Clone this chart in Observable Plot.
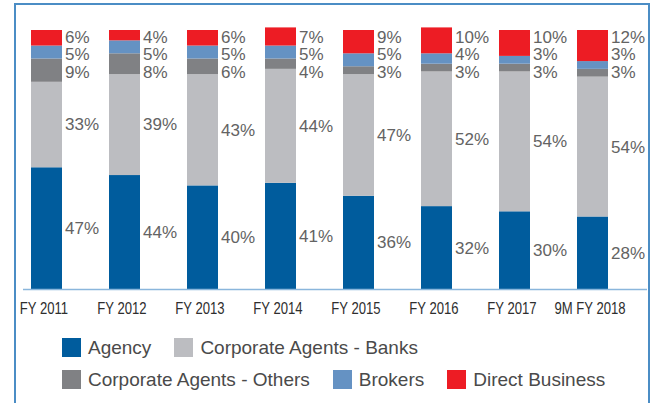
<!DOCTYPE html>
<html>
<head>
<meta charset="utf-8">
<script src="https://cdn.jsdelivr.net/npm/d3@7"></script>
<script src="https://cdn.jsdelivr.net/npm/@observablehq/plot@0.6"></script>
<style>
  html, body { margin: 0; padding: 0; background: #fff; }
  #wrap { position: relative; width: 656px; height: 403px; overflow: hidden; font-family: "Liberation Sans", Arial, sans-serif; }
  #frame { position: absolute; left: 14px; top: 3px; width: 636px; height: 420px; border: 2px solid #4b8dc5; border-bottom: none; box-sizing: border-box; }
  #chart { position: absolute; left: 0; top: 0; }
  #legend { position: absolute; left: 62px; top: 338px; width: 580px; }
  .row { display: flex; align-items: center; height: 19px; margin-bottom: 13px; }
  .item { display: flex; align-items: center; margin-right: 23px; }
  .sw { width: 19px; height: 19px; margin-right: 7px; flex: none; }
  .lab { font-size: 19px; color: #4a4a4a; line-height: 19px; white-space: nowrap; }
</style>
</head>
<body>
<div id="wrap">
  <div id="frame"></div>
  <div id="chart"></div>
  <div id="legend"></div>
</div>
<script>
const years = ["FY 2011", "FY 2012", "FY 2013", "FY 2014", "FY 2015", "FY 2016", "FY 2017", "9M FY 2018"];
const seriesNames = ["Agency", "Corporate Agents - Banks", "Corporate Agents - Others", "Brokers", "Direct Business"];
const colors = ["#005c9d", "#bcbdc1", "#808184", "#6592c3", "#ed1c24"];
const agency = [47, 44, 40, 41, 36, 32, 30, 28];
const banks = [33, 39, 43, 44, 47, 52, 54, 54];
const others = [9, 8, 6, 4, 3, 3, 3, 3];
const brokers = [5, 5, 5, 5, 5, 4, 3, 3];
const direct = [6, 4, 6, 7, 9, 10, 10, 12];
const legendRows = [[0, 1], [2, 3, 4]];

const seriesValues = [agency, banks, others, brokers, direct];
const data = [];
seriesNames.forEach((s, si) => {
  years.forEach((y, yi) => {
    data.push({year: y, series: s, value: seriesValues[si][yi]});
  });
});

const labelFont = "Liberation Sans, Arial, sans-serif";
const labelColor = "#636363";
const labelSize = 17;
const stackOpts = {x: "year", y: "value", z: "series", order: seriesNames};

const bottomLabels = data.filter(d => d.series === "Agency" || d.series === "Corporate Agents - Banks");
const topOffsets = {"Direct Business": 7, "Brokers": 24, "Corporate Agents - Others": 42};

const topMarks = Object.entries(topOffsets).map(([s, off]) =>
  Plot.text(data.filter(d => d.series === s), {
    x: "year", frameAnchor: "top", text: d => d.value + "%",
    textAnchor: "start", lineAnchor: "middle", dx: 18, dy: off,
    fontSize: labelSize, fill: labelColor, fontFamily: labelFont
  })
);

const chart = Plot.plot({
  width: 656,
  height: 320,
  marginLeft: 23,
  marginRight: 9,
  marginTop: 30,
  marginBottom: 31,
  x: {type: "band", domain: years, paddingInner: 0.6055, paddingOuter: 0.2737, align: 0.163, label: null},
  y: {domain: [0, 100], axis: null},
  color: {domain: seriesNames, range: colors},
  marks: [
    Plot.barY(data, Plot.stackY({...stackOpts, fill: "series", inset: 0})),
    Plot.text(bottomLabels, Plot.stackY({...stackOpts,
      text: d => d.value + "%", textAnchor: "start", dx: 18,
      fontSize: labelSize, fill: labelColor, fontFamily: labelFont})),
    ...topMarks,
    Plot.ruleY([0], {stroke: "#8ab6dc", strokeWidth: 1.5}),
    Plot.axisX({tickSize: 0, tickPadding: 12, fontSize: 17, fill: "#2e2e2e",
      fontFamily: "Liberation Sans, Arial, sans-serif", dx: -3, label: null})
  ]
});
chart.style.background = "transparent";
chart.style.overflow = "visible";
document.getElementById("chart").appendChild(chart);

// condense the tick labels (the reference uses a narrow face)
d3.select(chart).selectAll('g[aria-label="x-axis tick label"] text').each(function () {
  const w = this.getComputedTextLength();
  this.setAttribute("textLength", (w * 0.77).toFixed(1));
  this.setAttribute("lengthAdjust", "spacingAndGlyphs");
});

const legend = document.getElementById("legend");
legendRows.forEach(row => {
  const r = document.createElement("div");
  r.className = "row";
  row.forEach(i => {
    const it = document.createElement("div");
    it.className = "item";
    const sw = document.createElement("div");
    sw.className = "sw";
    sw.style.background = colors[i];
    const lb = document.createElement("span");
    lb.className = "lab";
    lb.textContent = seriesNames[i];
    it.appendChild(sw);
    it.appendChild(lb);
    r.appendChild(it);
  });
  legend.appendChild(r);
});
</script>
</body>
</html>
